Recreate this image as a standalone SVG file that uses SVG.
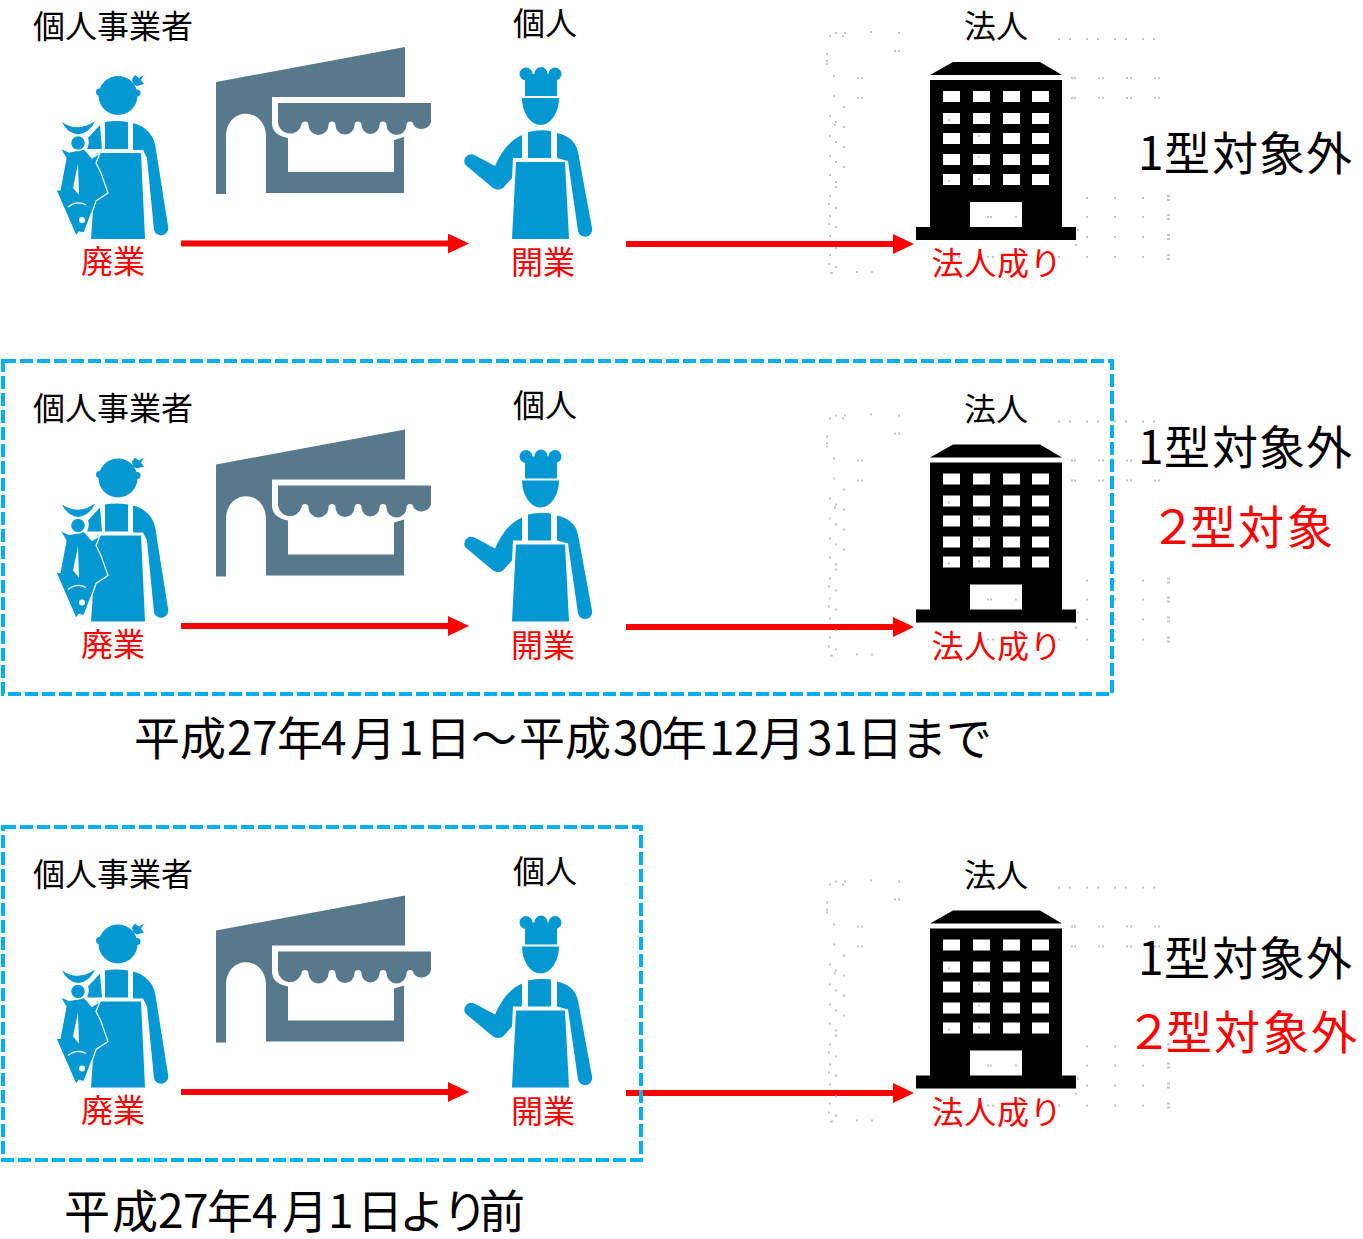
<svg xmlns="http://www.w3.org/2000/svg" width="1363" height="1239" viewBox="0 0 1363 1239">
<style>
text{font-family:"Noto Sans CJK JP","Noto Sans",sans-serif;font-weight:400}
.k{fill:#000}.r{fill:#f00}
.s{font-size:32px;text-anchor:middle}
.w{letter-spacing:.8px}
.l{font-size:46px}
.box{fill:none;stroke:#00b0f0;stroke-width:4;stroke-dasharray:13 4}
.arrow{fill:none;stroke:#f00;stroke-width:6;marker-end:url(#ah)}
</style>
<defs>
<marker id="ah" markerUnits="userSpaceOnUse" markerWidth="21" markerHeight="20" refX="0" refY="10" orient="auto"><path d="M0 0L21 10L0 20Z" fill="#f00"/></marker>
<g id="fishmonger" fill="#0398d2">
<circle cx="118" cy="95.500" r="19.500"/>
<circle cx="99.500" cy="92" r="3.500"/><circle cx="137" cy="93" r="3.500"/>
<path d="M132 79L135 75L139 78L144 75L141 80L144 84L137 86L133 84Z"/>
<path d="M105 122Q116 120 128 122V149H105Z"/>
<path d="M133 123C146 126 155 136 156 150L168 226A7 7 0 0 1 154 230L147 158L143 150H133Z"/>
<path d="M91 239L97 153H141L145 239Z"/>
<path d="M100 125L102 149H87Q90 142 88 138Z"/>
<path stroke="#fff" stroke-width="1.200" d="M69 152L60 148L66 158L60 190L56 190L76 236L79 232L84 233L94 207L96 201L108 193L101 173L96 163L100 153L92 158L87 152L84 149Z"/>
<path fill="#fff" d="M78 164L73 188L79 195Z"/>
<path fill="none" stroke="#fff" stroke-width="1.300" d="M68 207Q77 200 86 205"/>
<circle cx="82" cy="220" r="3" fill="#fff"/>
<circle cx="78" cy="143" r="7.500" stroke="#fff" stroke-width="1.500"/>
<path d="M62 122Q78 133 95 121Q90 133 78 134.500Q67 133 62 122Z"/>
</g>
<g id="shop" fill="#57798b">
<path d="M216 82L405 47V97H272V123Q272 135 288 138V172H394V140L404 137V193H266V137C266 106 226 106 226 137V194H216Z"/>
<path d="M278 103H431V122A10 10 0 0 1 413.500 125A3.500 3.500 0 0 0 406.500 125A10 10 0 0 1 386.500 125A3.500 3.500 0 0 0 379.500 125A9 9 0 0 1 361.500 125A3.500 3.500 0 0 0 354.500 125A9.500 9.500 0 0 1 335.500 125A3.500 3.500 0 0 0 328.500 125A10 10 0 0 1 308.500 125A3.500 3.500 0 0 0 301.500 125A12 12 0 0 1 278 122Z"/>
</g>
<g id="chef" fill="#0398d2">
<circle cx="526" cy="74" r="6.500"/><circle cx="541" cy="73.500" r="6.500"/><circle cx="555" cy="74" r="6.500"/>
<path d="M525 74H557V96H525Z"/>
<path d="M522 98H559A18.500 27 0 0 1 522 98Z"/>
<path d="M528 132Q540 129 551 131V158H528Z"/>
<path d="M516 162H565L569 239H512Z"/>
<path d="M557 133C568 135 576 142 578 152L592 228A7 7 0 0 1 578 231L568 161L557 158Z"/>
<path d="M522 135V158H513L512 178L503 188Q498 191 493 188L465.500 165A7 7 0 0 1 474.500 155L495 166C501 152 510 140 522 135Z"/>
</g>
<g id="building">
<path d="M953 62H1040L1062 75H930Z"/>
<path fill-rule="evenodd" d="M930 80H1062V227H1076V240H916V227H930ZM943 91V102H960V91ZM973 91V102H990V91ZM1003 91V102H1020V91ZM1032 91V102H1049V91ZM943 113V124H960V113ZM973 113V124H990V113ZM1003 113V124H1020V113ZM1032 113V124H1049V113ZM943 133V144H960V133ZM973 133V144H990V133ZM1003 133V144H1020V133ZM1032 133V144H1049V133ZM943 154V165H960V154ZM973 154V165H990V154ZM1003 154V165H1020V154ZM1032 154V165H1049V154ZM943 174V185H960V174ZM973 174V185H990V174ZM1003 174V185H1020V174ZM1032 174V185H1049V174ZM970 202V227H1022V202Z"/>
</g>
<path id="specks" fill="none" stroke="#c4c4c4" stroke-width="2" d="M1058 39h2M1069 39h2M1086 39h2M1097 39h2M1114 39h2M1125 39h2M1142 39h2M1153 39h2M1071 78h2M1074 78h2M1098 78h2M1102 78h2M1126 78h2M1130 78h2M1154 78h2M1158 78h2M1071 98h2M1074 98h2M1098 98h2M1102 98h2M1126 98h2M1130 98h2M1154 98h2M1158 98h2M1086 198h2M1114 198h2M1142 198h2M1167 196h3M1167 200h3M1086 217h2M1114 217h2M1142 217h2M1167 215h3M1167 219h3M1086 237h2M1114 237h2M1142 237h2M1167 235h3M1167 239h3M1058 257h2M1086 257h2M1114 257h2M1142 257h2M1167 255h3M1167 259h3M1077 230h2M1075 245h2M829 36h2M835 33h2M842 36h2M844 33h2M870 32h2M898 33h2M894 51h2M898 51h2M826 54h2M826 61h2M826 64h2M833 76h2M857 78h2M861 78h2M833 96h2M857 98h2M861 98h2M843 107h2M829 116h2M835 122h2M834 125h2M843 127h2M829 136h2M835 142h2M843 147h2M829 156h2M835 162h2M843 167h2M829 175h2M835 182h2M835 187h2M829 196h2M828 204h2M835 208h2M829 216h2M828 224h2M835 227h2M829 236h2M835 248h2M829 255h2M828 264h2M835 267h2M830 273h3M856 272h2M871 272h2M987 217h2M990 217h2M1015 217h2M948 120h2M978 136h2M978 157h2M948 181h2M978 179h2M958 257h2M987 257h2M992 257h2"/>
</defs>

<g id="connectors">
<path class="arrow" d="M181 243.500H448"/>
<path class="arrow" d="M626 244H893"/>
<path class="arrow" d="M181 626H448"/>
<path class="arrow" d="M626 627H893"/>
<path class="arrow" d="M181 1092H448"/>
<path class="arrow" d="M626 1093H893"/>
</g>

<g id="row1">
<g id="r1-owner"><use href="#fishmonger"/><text class="s k" x="113" y="38">個人事業者</text><text class="s r" x="113" y="273">廃業</text></g>
<g id="r1-shop"><use href="#shop"/></g>
<g id="r1-person"><use href="#chef"/><text class="s k" x="545" y="35">個人</text><text class="s r" x="543" y="274">開業</text></g>
<g id="r1-corp"><use href="#building"/><text class="s k" x="996" y="38">法人</text><text class="s r w" x="997" y="275">法人成り</text></g>
<use href="#specks"/>
<text id="r1-t1" class="l k" x="1138 1164 1212 1259 1306" y="170">1型対象外</text>
</g>

<g id="row2">
<rect id="box2" class="box" x="3" y="361" width="1109" height="333"/>
<g id="r2-owner"><use href="#fishmonger" y="382.500"/><text class="s k" x="113" y="420">個人事業者</text><text class="s r" x="113" y="656">廃業</text></g>
<g id="r2-shop"><use href="#shop" y="382.500"/></g>
<g id="r2-person"><use href="#chef" y="382.500"/><text class="s k" x="545" y="417">個人</text><text class="s r" x="543" y="657">開業</text></g>
<g id="r2-corp"><use href="#building" y="382.500"/><text class="s k" x="996" y="421">法人</text><text class="s r w" x="997" y="658">法人成り</text></g>
<use href="#specks" y="382.500"/>
<text id="r2-t1" class="l k" x="1138 1164 1212 1259 1306" y="464">1型対象外</text>
<text id="r2-t2" class="l r" x="1150 1190 1238 1287" y="544">２型対象</text>
<text id="r2-cap" class="l k" x="134 180 227 252 277 321 350 398 425 471 519 565 613 638 661 709 734 759 807 832 857 901 946" y="755">平成27年4月1日～平成30年12月31日まで</text>
</g>

<g id="row3">
<rect id="box3" class="box" x="3" y="827" width="638" height="333"/>
<g id="r3-owner"><use href="#fishmonger" y="848.500"/><text class="s k" x="113" y="886">個人事業者</text><text class="s r" x="113" y="1122">廃業</text></g>
<g id="r3-shop"><use href="#shop" y="848.500"/></g>
<g id="r3-person"><use href="#chef" y="848.500"/><text class="s k" x="545" y="883">個人</text><text class="s r" x="543" y="1123">開業</text></g>
<g id="r3-corp"><use href="#building" y="848.500"/><text class="s k" x="996" y="887">法人</text><text class="s r w" x="997" y="1124">法人成り</text></g>
<use href="#specks" y="848.500"/>
<text id="r3-t1" class="l k" x="1138 1164 1212 1259 1306" y="975">1型対象外</text>
<text id="r3-t2" class="l r" x="1126 1166 1214 1263 1311" y="1049">２型対象外</text>
<text id="r3-cap" class="l k" x="64 112 158 183 207 252 282 328 357 399 442 479" y="1228">平成27年4月1日より前</text>
</g>
</svg>
